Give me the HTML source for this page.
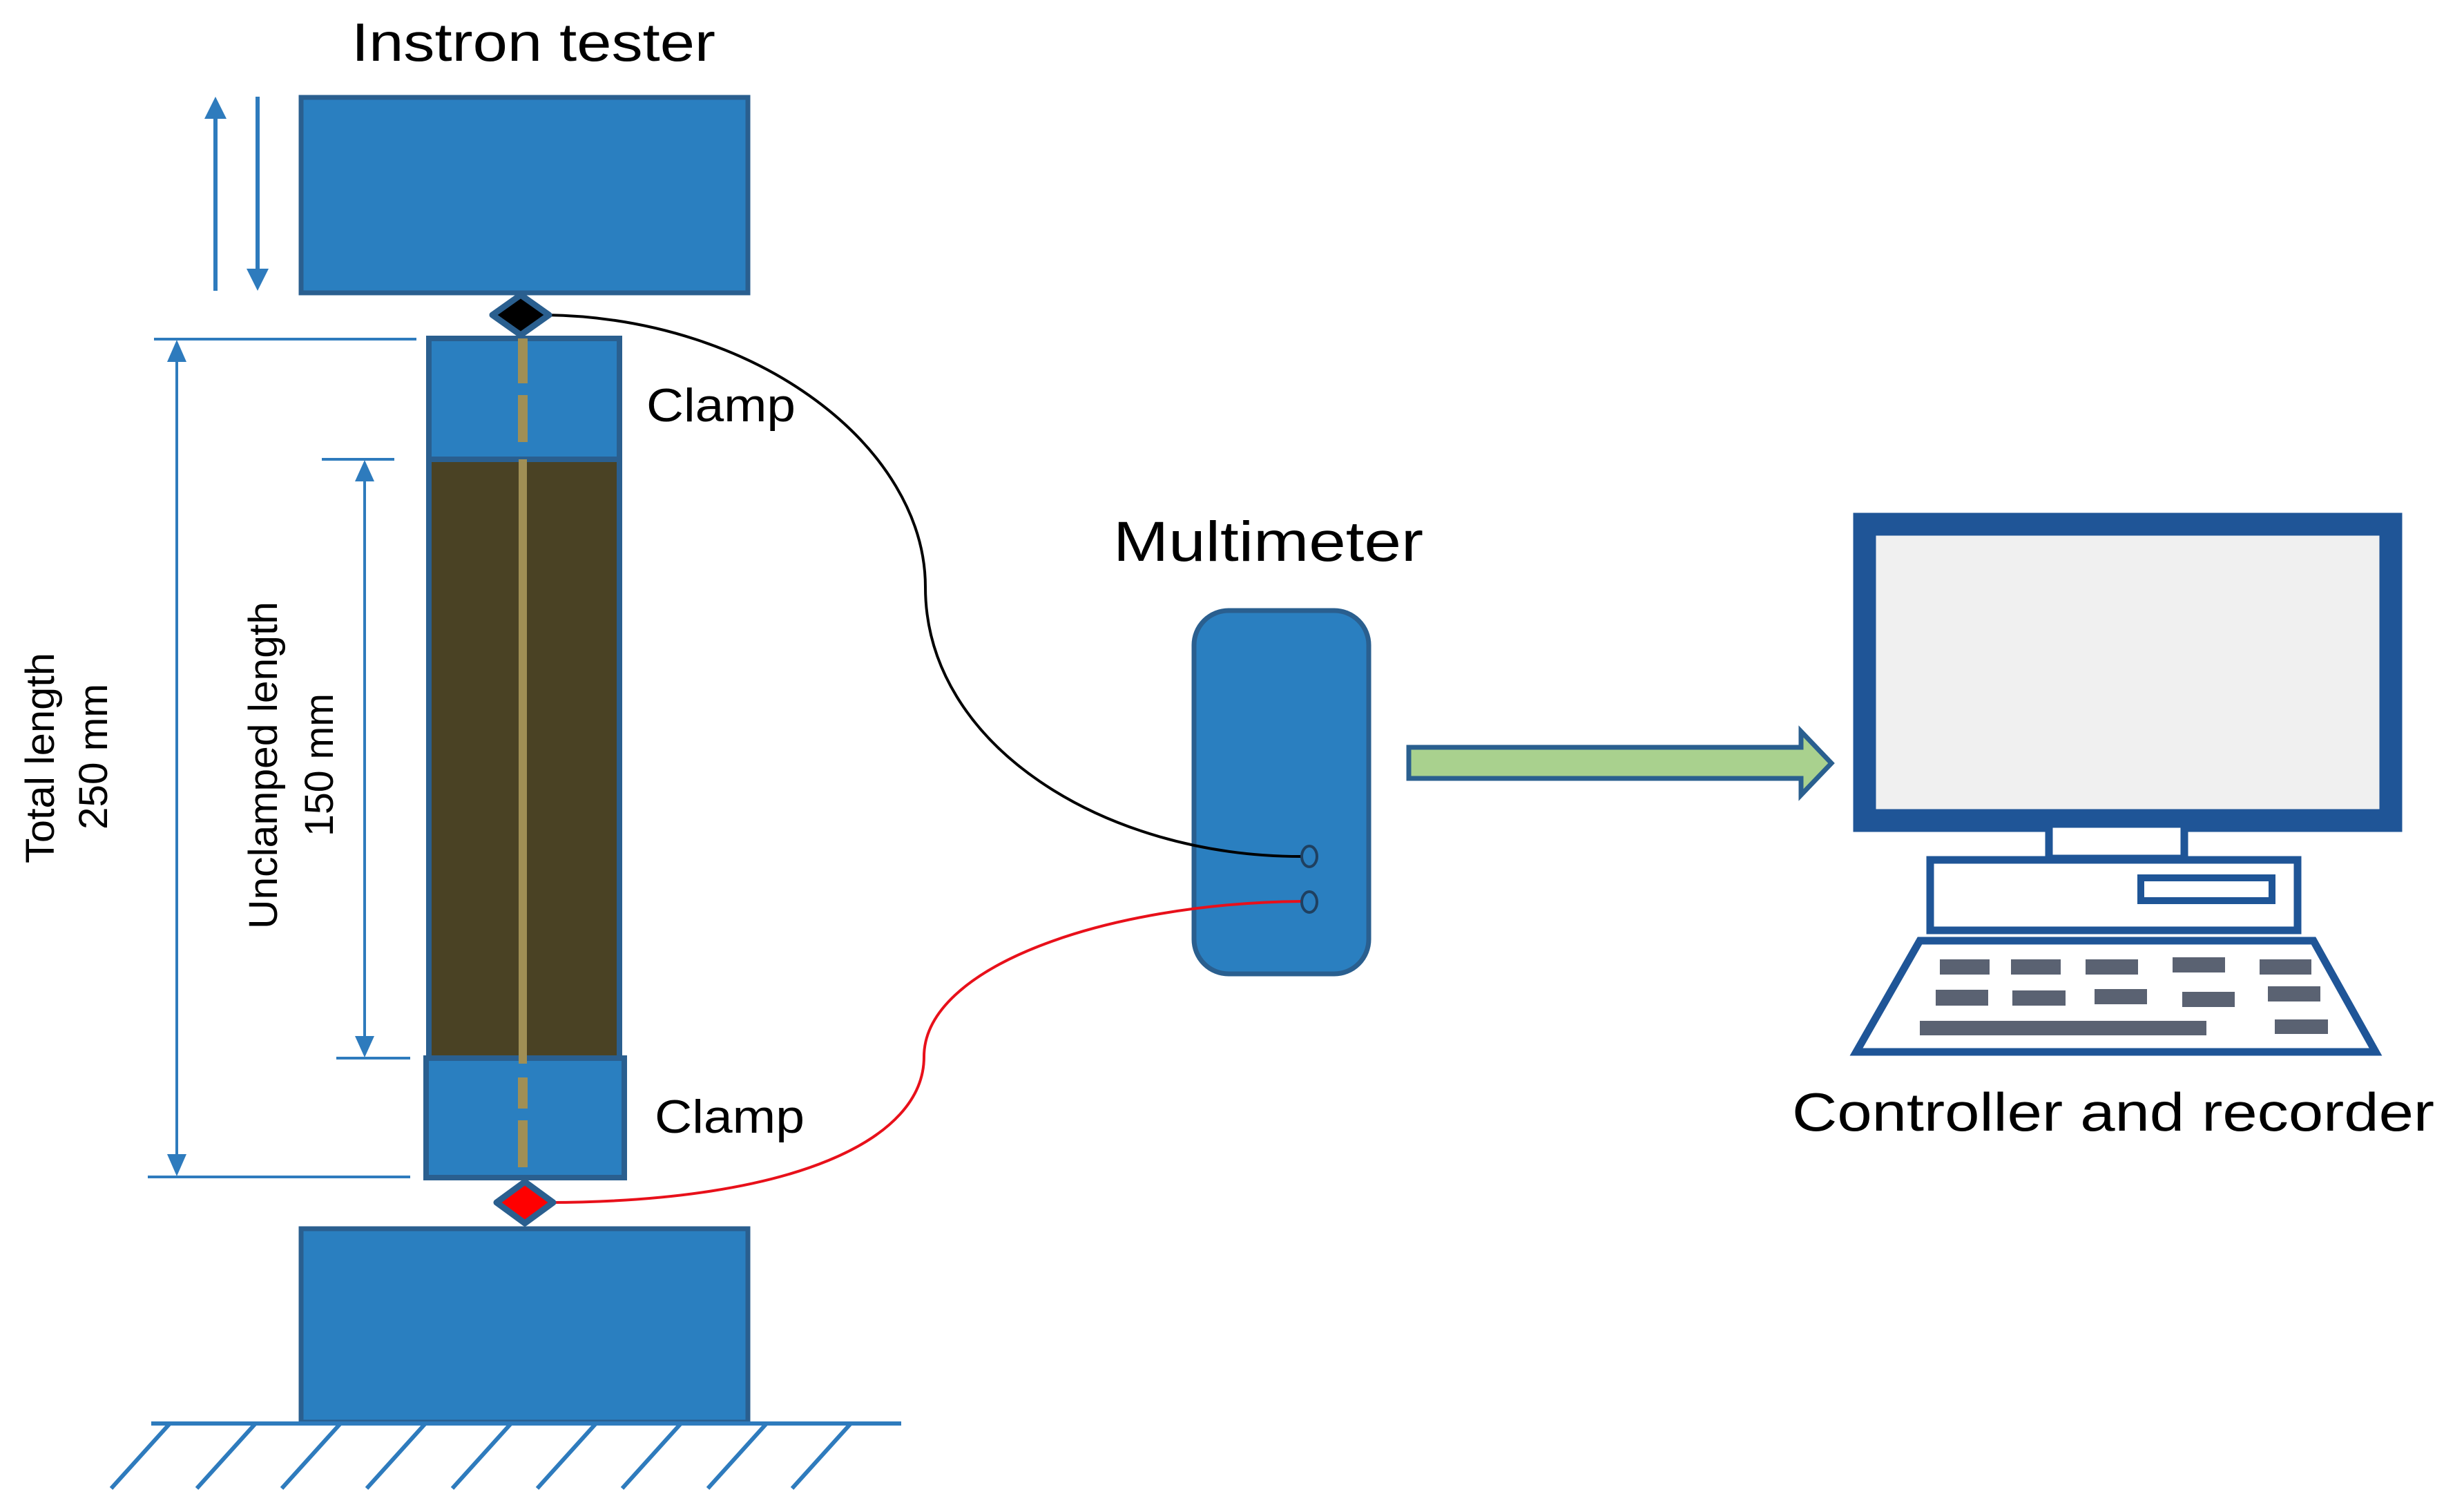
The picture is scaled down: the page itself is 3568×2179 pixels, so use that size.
<!DOCTYPE html>
<html><head><meta charset="utf-8"><style>html,body{margin:0;padding:0;background:#fff}svg{display:block}</style></head>
<body>
<svg width="3568" height="2179" viewBox="0 0 3568 2179" xmlns="http://www.w3.org/2000/svg" font-family="'Liberation Sans', sans-serif">
<text x="509" y="88" font-size="78" textLength="527" lengthAdjust="spacingAndGlyphs" fill="#000">Instron tester</text>
<rect x="436" y="141" width="647" height="283" fill="#2a7fc0" stroke="#2a5f8f" stroke-width="7"/>
<line x1="312" y1="170" x2="312" y2="421" stroke="#2e7bbd" stroke-width="6"/>
<polygon points="312,140 296,172 328,172" fill="#2e7bbd"/>
<line x1="373" y1="140" x2="373" y2="390" stroke="#2e7bbd" stroke-width="6"/>
<polygon points="373,421 357,389 389,389" fill="#2e7bbd"/>
<rect x="621" y="490" width="276" height="175" fill="#2a7fc0" stroke="#2a5f8f" stroke-width="8"/>
<rect x="621" y="665" width="276" height="867" fill="#4a4224" stroke="#2a5f8f" stroke-width="8"/>
<rect x="617" y="1532" width="287" height="173" fill="#2a7fc0" stroke="#2a5f8f" stroke-width="8"/>
<line x1="757" y1="490" x2="757" y2="555" stroke="#a08f55" stroke-width="14"/>
<line x1="757" y1="572" x2="757" y2="640" stroke="#a08f55" stroke-width="14"/>
<line x1="757" y1="665" x2="757" y2="1540" stroke="#a08f55" stroke-width="12"/>
<line x1="757" y1="1560" x2="757" y2="1605" stroke="#a08f55" stroke-width="14"/>
<line x1="757" y1="1622" x2="757" y2="1690" stroke="#a08f55" stroke-width="14"/>
<rect x="436" y="1779" width="647" height="280" fill="#2a7fc0" stroke="#2a5f8f" stroke-width="7"/>
<line x1="219" y1="2061" x2="1305" y2="2061" stroke="#2e7bbd" stroke-width="6"/>
<g stroke="#2e7bbd" stroke-width="6">
<line x1="246" y1="2061" x2="161" y2="2155"/>
<line x1="370" y1="2061" x2="285" y2="2155"/>
<line x1="493" y1="2061" x2="408" y2="2155"/>
<line x1="616" y1="2061" x2="531" y2="2155"/>
<line x1="740" y1="2061" x2="655" y2="2155"/>
<line x1="863" y1="2061" x2="778" y2="2155"/>
<line x1="986" y1="2061" x2="901" y2="2155"/>
<line x1="1110" y1="2061" x2="1025" y2="2155"/>
<line x1="1232" y1="2061" x2="1147" y2="2155"/>
</g>
<g stroke="#2e7bbd" stroke-width="4" fill="none">
<line x1="223" y1="491" x2="603" y2="491"/>
<line x1="214" y1="1704" x2="594" y2="1704"/>
<line x1="256" y1="520" x2="256" y2="1675"/>
<line x1="466" y1="665" x2="571" y2="665"/>
<line x1="487" y1="1532" x2="594" y2="1532"/>
<line x1="528" y1="690" x2="528" y2="1505"/>
</g>
<g fill="#2e7bbd">
<polygon points="256,492 242,524 270,524"/>
<polygon points="256,1703 242,1671 270,1671"/>
<polygon points="528,666 514,697 542,697"/>
<polygon points="528,1531 514,1500 542,1500"/>
</g>
<text transform="translate(78,1250) rotate(-90)" font-size="58" textLength="305" lengthAdjust="spacingAndGlyphs">Total length</text>
<text transform="translate(155,1201) rotate(-90)" font-size="58" textLength="211" lengthAdjust="spacingAndGlyphs">250 mm</text>
<text transform="translate(401,1345) rotate(-90)" font-size="58" textLength="474" lengthAdjust="spacingAndGlyphs">Unclamped length</text>
<text transform="translate(482,1211) rotate(-90)" font-size="58" textLength="207" lengthAdjust="spacingAndGlyphs">150 mm</text>
<text x="936" y="610" font-size="68" textLength="216" lengthAdjust="spacingAndGlyphs">Clamp</text>
<text x="948" y="1640" font-size="68" textLength="217" lengthAdjust="spacingAndGlyphs">Clamp</text>
<text x="1612" y="812" font-size="82" textLength="449" lengthAdjust="spacingAndGlyphs">Multimeter</text>
<rect x="1729" y="884" width="253" height="526" rx="50" fill="#2a7fc0" stroke="#2a5f8f" stroke-width="7"/>
<path d="M790,456 C1100,460 1340,650 1340,850 C1340,1080 1600,1240 1884,1240" fill="none" stroke="#000" stroke-width="4"/>
<path d="M795,1741 C1150,1740 1338,1650 1338,1530 C1338,1400 1600,1308 1884,1305" fill="none" stroke="#e8101a" stroke-width="4"/>
<ellipse cx="1896" cy="1240" rx="11" ry="15" fill="#2a7fc0" stroke="#1f4060" stroke-width="4"/>
<ellipse cx="1896" cy="1306" rx="11" ry="15" fill="#2a7fc0" stroke="#1f4060" stroke-width="4"/>
<polygon points="754,427 795,456 754,485 713,456" fill="#000" stroke="#2a5f8f" stroke-width="9" stroke-linejoin="round"/>
<polygon points="760,1711 801,1741 760,1771 719,1741" fill="#f00" stroke="#2a5f8f" stroke-width="9" stroke-linejoin="round"/>
<polygon points="2040,1082 2608,1082 2608,1059 2652,1105 2608,1151 2608,1127 2040,1127" fill="#a9d18e" stroke="#2a5f8f" stroke-width="7"/>
<rect x="2700" y="759" width="762" height="429" fill="#f0f0f0" stroke="#1f5597" stroke-width="33"/>
<rect x="2967" y="1193" width="196" height="50" fill="#fff" stroke="#1f5597" stroke-width="11"/>
<rect x="2795" y="1245" width="532" height="102" fill="#fff" stroke="#1f5597" stroke-width="11"/>
<rect x="3100" y="1271" width="190" height="33" fill="#fff" stroke="#1f5597" stroke-width="10"/>
<polygon points="2780,1362 3350,1362 3440,1523 2688,1523" fill="#fff" stroke="#1f5597" stroke-width="11"/>
<g fill="#5a6272">
<rect x="2809" y="1389" width="72" height="22"/>
<rect x="2912" y="1389" width="72" height="22"/>
<rect x="3020" y="1389" width="76" height="22"/>
<rect x="3146" y="1386" width="76" height="22"/>
<rect x="3272" y="1389" width="75" height="22"/>
<rect x="2803" y="1433" width="76" height="23"/>
<rect x="2914" y="1434" width="77" height="22"/>
<rect x="3033" y="1432" width="76" height="22"/>
<rect x="3160" y="1436" width="76" height="22"/>
<rect x="3284" y="1428" width="76" height="22"/>
<rect x="2780" y="1478" width="415" height="21"/>
<rect x="3294" y="1476" width="77" height="21"/>
</g>
<text x="2595" y="1637" font-size="78" textLength="930" lengthAdjust="spacingAndGlyphs">Controller and recorder</text>
</svg>
</body></html>
